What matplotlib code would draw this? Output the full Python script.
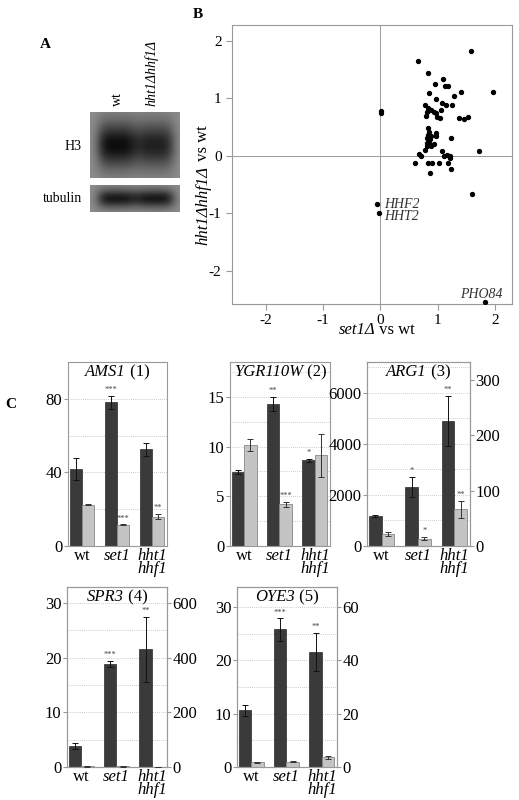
import numpy as np
import matplotlib
matplotlib.use("Agg")
import matplotlib.pyplot as plt

plt.rcParams['font.family'] = ['Liberation Serif', 'DejaVu Serif']

# ---- scatter data (panel B)
set1_x = [1.59,0.66,0.84,1.10,0.96,1.13,1.18,0.85,1.41,1.97,1.29,0.97,1.08,1.15,1.26,0.78,0.84,0.88,1.06,
          0.02,0.02,0.82,0.79,0.93,0.97,0.99,1.05,1.37,1.47,1.53,0.84,0.85,0.84,0.98,0.97,0.82,0.86,0.89,
          0.81,0.85,0.88,0.94,0.81,1.24,0.78,1.08,1.72,0.67,0.71,1.12,1.16,1.21,1.22,0.60,0.84,0.91,1.03,
          1.18,1.24,0.87,1.60,-0.06,-0.02,1.82]
hht_y = [1.83,1.66,1.45,1.34,1.25,1.22,1.22,1.09,1.12,1.11,1.05,0.99,0.92,0.88,0.88,0.88,0.84,0.80,0.80,
         0.78,0.74,0.76,0.70,0.76,0.74,0.67,0.66,0.66,0.64,0.68,0.48,0.42,0.37,0.40,0.35,0.32,0.29,0.34,
         0.22,0.22,0.18,0.20,0.18,0.32,0.10,0.09,0.08,0.03,-0.01,-0.01,0.01,-0.01,-0.04,-0.12,-0.13,-0.12,
         -0.12,-0.13,-0.23,-0.29,-0.66,-0.84,-1.00,-2.54]
gene_labels = [("HHF2", 0.06, -0.84), ("HHT2", 0.06, -1.06), ("PHO84", 1.40, -2.42)]

# ---- bar data (panel C)
strains = ["wt", "set1", "hht1\nhhf1"]
genes = ["AMS1", "YGR110W", "ARG1", "SPR3", "OYE3"]
dark_vals = {"AMS1": [42, 78, 52.5], "YGR110W": [7.4, 14.3, 8.6], "ARG1": [1180, 2320, 4900],
             "SPR3": [3.8, 18.8, 21.5], "OYE3": [10.6, 25.8, 21.6]}
dark_err = {"AMS1": [6, 3.5, 3.5], "YGR110W": [0.2, 0.7, 0.15], "ARG1": [30, 400, 980],
            "SPR3": [0.6, 0.6, 6], "OYE3": [1.0, 2.1, 3.6]}
light_vals = {"AMS1": [22.5, 11.5, 16], "YGR110W": [10.2, 4.2, 9.1], "ARG1": [22, 13, 66],
              "SPR3": [2, 2, 1], "OYE3": [1.8, 2.0, 3.6]}
light_err = {"AMS1": [0.3, 0.3, 1.5], "YGR110W": [0.6, 0.25, 2.2], "ARG1": [4, 3, 15],
             "SPR3": [0.5, 0.5, 0.3], "OYE3": [0.2, 0.3, 0.7]}
dark_stars = {"AMS1": ["", "***", ""], "YGR110W": ["", "**", "*"], "ARG1": ["", "*", "**"],
              "SPR3": ["", "***", "**"], "OYE3": ["", "***", "**"]}
light_stars = {"AMS1": ["", "***", "**"], "YGR110W": ["", "***", ""], "ARG1": ["", "*", "**"],
               "SPR3": ["", "", ""], "OYE3": ["", "", ""]}
left_ticks = {"AMS1": [0, 40, 80], "YGR110W": [0, 5, 10, 15], "ARG1": [0, 2000, 4000, 6000],
              "SPR3": [0, 10, 20, 30], "OYE3": [0, 10, 20, 30]}
right_ticks = {"ARG1": [0, 100, 200, 300], "SPR3": [0, 200, 400, 600], "OYE3": [0, 20, 40, 60]}
ylim_left = {"AMS1": 100, "YGR110W": 18.5, "ARG1": 7215, "SPR3": 32.9, "OYE3": 33.75}
ylim_right = {"ARG1": 332.5, "SPR3": 658, "OYE3": 67.5}
grid_step = {"AMS1": 20, "YGR110W": 2.5, "ARG1": 1000, "SPR3": 5, "OYE3": 5}
numbers = {"AMS1": 1, "YGR110W": 2, "ARG1": 3, "SPR3": 4, "OYE3": 5}

W, H = 519, 800
fig = plt.figure(figsize=(5.19, 8.0), dpi=100)
renderer = fig.canvas.get_renderer()

def rect(x0, y0, x1, y1):
    return [x0 / W, 1 - y1 / H, (x1 - x0) / W, (y1 - y0) / H]

# ---- panel A (western blot)
fig.text(40 / W, 1 - 48 / H, "A", fontweight="bold", fontsize=11)
def blot(r, dark):
    ax = fig.add_axes(rect(*r))
    xx = np.linspace(0, 1, 200)
    yy = np.linspace(0, 1, 60)
    X, Y = np.meshgrid(xx, yy)
    img = np.zeros_like(X)
    for cx, amp in zip([0.3, 0.72], dark):
        img += amp * np.exp(-((X - cx) / 0.22) ** 4 - ((Y - 0.5) / 0.35) ** 2)
    img = 0.55 - 0.5 * np.clip(img, 0, 1)
    ax.imshow(img, cmap="gray", vmin=0, vmax=1, aspect="auto", extent=[0, 1, 0, 1])
    ax.set_xticks([]); ax.set_yticks([])
    for s in ax.spines.values():
        s.set_visible(False)
blot((90, 112, 180, 178), [1.0, 0.85])
blot((90, 185, 180, 212), [0.9, 0.9])
fig.text(117 / W, 1 - 106 / H, "wt", rotation=90, fontsize=10, ha="center", va="bottom")
fig.text(152 / W, 1 - 106 / H, "hht1Δhhf1Δ", style="italic", rotation=90, fontsize=10,
         ha="center", va="bottom")
fig.text(82 / W, 1 - 146 / H, "H3", fontsize=10, ha="right", va="center")
fig.text(82 / W, 1 - 199 / H, "tubulin", fontsize=10, ha="right", va="center")

# ---- panel B (scatter)
fig.text(193 / W, 1 - 18 / H, "B", fontweight="bold", fontsize=11)
axb = fig.add_axes(rect(232, 25, 512, 304))
axb.scatter(set1_x, hht_y, s=8, color="black", zorder=3)
axb.axhline(0, color="#999999", lw=0.7)
axb.axvline(0, color="#999999", lw=0.7)
axb.set_xlim(-2.59, 2.30); axb.set_ylim(-2.58, 2.28)
axb.set_xticks([-2, -1, 0, 1, 2]); axb.set_yticks([-2, -1, 0, 1, 2])
axb.set_yticklabels(["-2", "-1", "0", "1", "2"]); axb.set_xticklabels(["-2", "-1", "0", "1", "2"])
axb.tick_params(labelsize=11, length=4, color="#999999")
for s in axb.spines.values():
    s.set_color("#999999")
for name, x, y in gene_labels:
    axb.text(x, y, name, style="italic", fontsize=10, color="#333333", va="center")
# x label
fig.text(375 / W, 1 - 334 / H, "set1Δ", style="italic", fontsize=12, ha="right", va="baseline")
fig.text(375 / W, 1 - 334 / H, " vs wt", fontsize=12, ha="left", va="baseline")
# y label (rotated)
ty = fig.text(203 / W, 1 - 245 / H, "hht1Δhhf1Δ", style="italic", fontsize=12, rotation=90,
              ha="center", va="bottom")
bb = ty.get_window_extent(renderer)
fig.text(203 / W, (bb.y1 + 1) / H, " vs wt", fontsize=12, rotation=90, ha="center", va="bottom")

# ---- panel C (bars)
fig.text(5 / W, 1 - 408 / H, "C", fontweight="bold", fontsize=11)
boxes = {"AMS1": (68, 362, 167, 546), "YGR110W": (230, 362, 330, 546), "ARG1": (367, 362, 470, 546),
         "SPR3": (67, 587, 167, 767), "OYE3": (237, 587, 337, 767)}
x = np.arange(3)
bw = 0.35
for g in genes:
    ax = fig.add_axes(rect(*boxes[g]))
    ax.set_xlim(-0.4, 2.43)
    ax.set_ylim(0, ylim_left[g])
    for yv in np.arange(grid_step[g], ylim_left[g], grid_step[g]):
        ax.axhline(yv, color="#bbbbbb", lw=0.6, ls=(0, (1, 1.5)), zorder=0)
    ax.bar(x - bw / 2, dark_vals[g], bw, color="#3a3a3a", edgecolor="#2a2a2a", lw=0.5, zorder=2)
    ax.errorbar(x - bw / 2, dark_vals[g], yerr=dark_err[g], fmt="none", ecolor="#111111",
                elinewidth=0.7, capsize=2.5, capthick=0.7, zorder=3)
    if g in ylim_right:
        axl = ax.twinx()
        axl.set_ylim(0, ylim_right[g])
        axl.set_yticks(right_ticks[g])
        axl.tick_params(labelsize=12, length=3, color="#999999", pad=1)
        for s in axl.spines.values():
            s.set_color("#999999")
    else:
        axl = ax
    axl.bar(x + bw / 2, light_vals[g], bw, color="#c4c4c4", edgecolor="#888888", lw=0.6, zorder=2)
    axl.errorbar(x + bw / 2, light_vals[g], yerr=light_err[g], fmt="none", ecolor="#333333",
                 elinewidth=0.7, capsize=2.5, capthick=0.7, zorder=3)
    lt = axl.get_ylim()[1]
    for i in range(3):
        if dark_stars[g][i]:
            ax.text(x[i] - bw / 2, dark_vals[g][i] + dark_err[g][i] + ylim_left[g] * 0.01,
                    dark_stars[g][i], ha="center", va="bottom", fontsize=6, color="#444444")
        if light_stars[g][i]:
            axl.text(x[i] + bw / 2, light_vals[g][i] + light_err[g][i] + lt * 0.01,
                     light_stars[g][i], ha="center", va="bottom", fontsize=6, color="#444444")
    ax.set_yticks(left_ticks[g])
    ax.set_xticks(x)
    ax.set_xticklabels([])
    ax.tick_params(axis="y", labelsize=12, length=3, color="#999999", pad=1)
    ax.tick_params(axis="x", length=0)
    for s in ax.spines.values():
        s.set_color("#999999")
    for i, lab in enumerate(strains):
        ax.text(x[i], -0.01 * ylim_left[g], lab, ha="center", va="top", fontsize=12,
                style="normal" if lab == "wt" else "italic", linespacing=0.75,
                transform=ax.transData)
    # centred two-part title
    bx0, by0, bx1, by1 = boxes[g]
    xm = (bx0 + bx1) / 2
    ytop = 1 - (by0 + 2) / H
    t1 = fig.text(0, ytop, g, style="italic", ha="left", va="top", fontsize=12)
    t2 = fig.text(0, ytop, f" ({numbers[g]})", ha="left", va="top", fontsize=12)
    w1 = t1.get_window_extent(renderer).width
    w2 = t2.get_window_extent(renderer).width
    start = xm - (w1 + w2) / 2
    t1.set_x(start / W)
    t2.set_x((start + w1) / W)

fig.savefig("out.png", dpi=100)
